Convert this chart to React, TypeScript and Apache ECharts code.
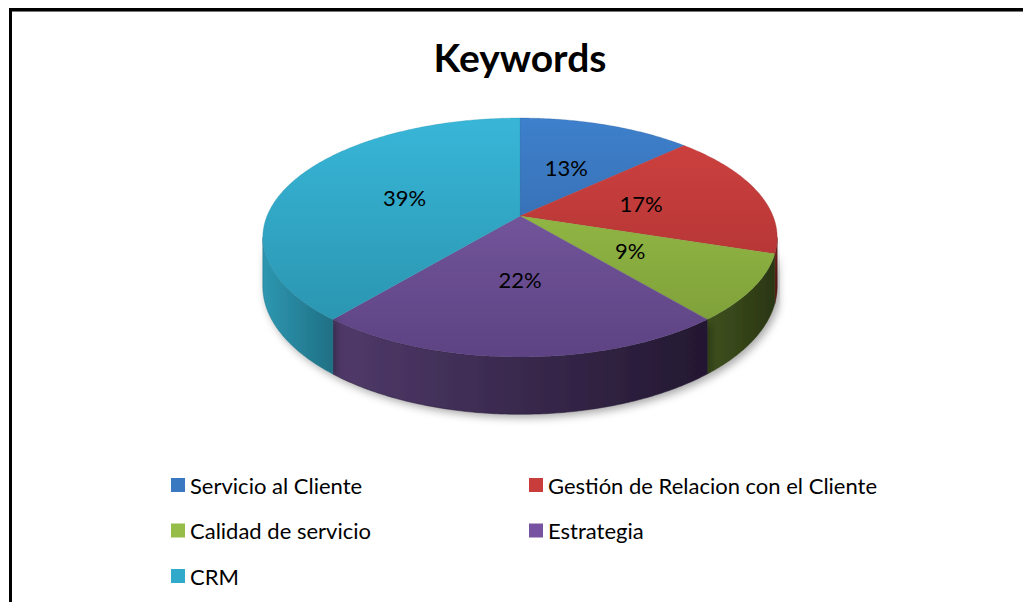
import React, { useEffect, useRef } from "react";
import * as echarts from "echarts";

const categories = [
  "Servicio al Cliente",
  "Gestión de Relacion con el Cliente",
  "Calidad de servicio",
  "Estrategia",
  "CRM",
];
const values = [13, 17, 9, 22, 39];
const percentLabels = ["13%", "17%", "9%", "22%", "39%"];
const legendLeftColumn = [categories[0], categories[2], categories[4]];
const legendRightColumn = [categories[1], categories[3]];

const legendColors = ["#3a78c2", "#c83c3b", "#95bd48", "#7652a0", "#30a9cb"];
const topColors = [
  ["#3e80cc", "#2f5f9b"],
  ["#d04241", "#a52f2e"],
  ["#9fc84c", "#7a9a37"],
  ["#8060aa", "#5d4383"],
  ["#38b6d8", "#2890aa"],
];
const wallColors = [
  ["#2d5a93", "#1d3a60"],
  ["#8c2827", "#5c1818"],
  ["#3f521f", "#2a3612"],
  ["#503a6a", "#231831"],
  ["#2e97b1", "#1f7084"],
];

const FONT = "Lato, 'Open Sans', sans-serif";

// projection geometry
const CX = 520;
const CY = 216;
const RX = 253;
const RY = 115.6;
const K = 0.18;
const H = 47;
const T1 = Math.acos(-K);
const T2 = 2 * Math.PI - T1;

const TOTAL = values.reduce((a, b) => a + b, 0);
const starts = values.map((_, i) => values.slice(0, i).reduce((a, b) => a + b, 0));

function proj(theta: number, f: number, dz: number): number[] {
  const u = f * Math.sin(theta);
  const v = -f * Math.cos(theta);
  const d = 1 - K * v;
  return [CX + (RX * u) / d, CY + (RY * v + dz) / d];
}

function arcPoints(a0: number, a1: number, dz: number): number[][] {
  const n = Math.max(2, Math.ceil((a1 - a0) / 0.01));
  const pts: number[][] = [];
  for (let j = 0; j <= n; j++) pts.push(proj(a0 + ((a1 - a0) * j) / n, 1, dz));
  return pts;
}

export default function App() {
  const ref = useRef<HTMLDivElement>(null);
  useEffect(() => {
    if (!ref.current) return;
    const chart = echarts.init(ref.current, undefined, { renderer: "svg" });
    const series = categories.map((name, i) => ({
      type: "custom",
      name,
      coordinateSystem: "none",
      silent: true,
      itemStyle: { color: legendColors[i] },
      data: [[values[i], starts[i], i]],
      renderItem: (_params: any, api: any) => {
        const val = api.value(0);
        const st = api.value(1);
        const idx = api.value(2);
        const a0 = (st / TOTAL) * 2 * Math.PI;
        const a1 = ((st + val) / TOTAL) * 2 * Math.PI;
        const children: any[] = [];
        const w0 = Math.max(a0, T1);
        const w1 = Math.min(a1, T2);
        if (w1 > w0) {
          const topArc = arcPoints(w0, w1, 0);
          const botArc = arcPoints(w0, w1, H).reverse();
          children.push({
            type: "polygon",
            shape: { points: topArc.concat(botArc) },
            style: {
              fill: {
                type: "linear",
                x: 0,
                y: 0,
                x2: 1,
                y2: 0,
                colorStops: [
                  { offset: 0, color: wallColors[idx][0] },
                  { offset: 1, color: wallColors[idx][1] },
                ],
              },
              stroke: wallColors[idx][1],
              lineWidth: 0.5,
              shadowBlur: 8,
              shadowColor: "rgba(0,0,0,0.35)",
              shadowOffsetX: 3,
              shadowOffsetY: 3,
            },
          });
        }
        const top = [[CX, CY]].concat(arcPoints(a0, a1, 0));
        children.push({
          type: "polygon",
          shape: { points: top },
          style: {
            fill: {
              type: "linear",
              x: 0,
              y: 118,
              x2: 0,
              y2: 357,
              global: true,
              colorStops: [
                { offset: 0, color: topColors[idx][0] },
                { offset: 1, color: topColors[idx][1] },
              ],
            },
            stroke: topColors[idx][1],
            lineWidth: 0.3,
          },
        });
        const mid = (a0 + a1) / 2;
        const lp = proj(mid, 0.5, 0);
        children.push({
          type: "text",
          x: lp[0],
          y: lp[1],
          style: {
            text: percentLabels[idx],
            align: "center",
            verticalAlign: "middle",
            fontSize: 22,
            fontFamily: FONT,
            fill: "#000",
          },
        });
        return { type: "group", children };
      },
    }));

    const legendBase = {
      orient: "vertical",
      top: 474,
      padding: 0,
      itemWidth: 14,
      itemHeight: 14,
      itemGap: 23.5,
      icon: "rect",
      selectedMode: false,
      textStyle: { fontSize: 22, fontFamily: FONT, color: "#000", lineHeight: 20 },
    };

    chart.setOption({
      animation: false,
      backgroundColor: "#fff",
      color: legendColors,
      title: {
        text: "Keywords",
        left: 515,
        textAlign: "center",
        top: 32,
        textStyle: { fontSize: 39, fontWeight: "bold", fontFamily: FONT, color: "#000" },
      },
      legend: [
        { ...legendBase, left: 171, data: legendLeftColumn },
        { ...legendBase, left: 529, data: legendRightColumn },
      ],
      graphic: [
        { type: "rect", shape: { x: 9, y: 8, width: 1014, height: 3 }, style: { fill: "#000" } },
        { type: "rect", shape: { x: 12, y: 11, width: 1011, height: 1 }, style: { fill: "#777" } },
        { type: "rect", shape: { x: 9, y: 8, width: 3, height: 594 }, style: { fill: "#000" } },
      ],
      series,
    });
    return () => chart.dispose();
  }, []);
  return (
    <div
      ref={ref}
      style={{ position: "fixed", left: 0, top: 0, width: 1023, height: 602 }}
    />
  );
}
